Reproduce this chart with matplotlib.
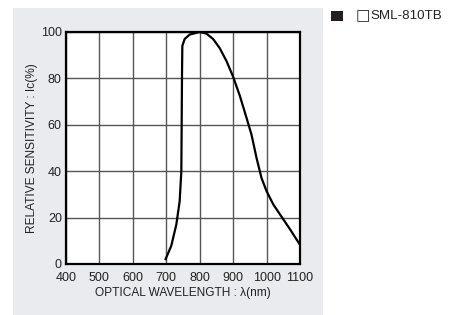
import matplotlib
matplotlib.use("Agg")
import matplotlib.pyplot as plt
from matplotlib.patches import Rectangle

plt.rcParams['font.family'] = ['Liberation Sans', 'DejaVu Sans']

# curve
wavelength = [698, 715, 730, 740, 745, 746, 747, 748, 755, 770, 800, 820, 840, 860, 880,
              900, 920, 940, 955, 970, 985, 1000, 1020, 1040, 1070, 1099]
sensitivity = [2.1, 7.9, 17, 27, 40, 60, 81, 94, 97, 98.9, 100, 99.3, 97, 93, 87.5,
               80.7, 72.5, 63, 55.7, 45.7, 37, 31.4, 25.7, 21.4, 15, 8.5]

xticks = [400, 500, 600, 700, 800, 900, 1000, 1100]
yticks = [0, 20, 40, 60, 80, 100]
legend_box = "\u25a1"
legend_label = "SML-810TB"

fig = plt.figure(figsize=(4.58, 3.15), dpi=100)

# grey panel behind the chart
fig.patches.append(Rectangle((13/458, 0), 310/458, 307/315, transform=fig.transFigure,
                             facecolor="#e9ebee", edgecolor="none", zorder=-5))

ax = fig.add_axes([66/458, 51/315, 234/458, 232/315])
ax.set_facecolor("white")
ax.plot(wavelength, sensitivity, color="black", lw=1.6, zorder=3)
ax.set_xlim(400, 1100)
ax.set_ylim(0, 100)
ax.set_xticks(xticks)
ax.set_yticks(yticks)
ax.grid(True, color="#555555", lw=1.0)
for s in ax.spines.values():
    s.set_linewidth(1.6)
ax.tick_params(length=0, labelsize=9, colors="#222222")
ax.tick_params(axis="x", pad=6)
ax.tick_params(axis="y", pad=3)
ax.set_xlabel("OPTICAL WAVELENGTH : \u03bb(nm)", fontsize=8.6, color="#222222", labelpad=2)
ax.set_ylabel("RELATIVE SENSITIVITY : Ic(%)", fontsize=8.6, color="#222222", labelpad=2)

# legend-like header at the right
fig.patches.append(Rectangle((331/458, 1 - 21/315), 12/458, 10/315, transform=fig.transFigure,
                             facecolor="#231f20", edgecolor="none"))
fig.text(356/458, 1 - 16/315, legend_box, fontsize=11, va="center", ha="left",
         color="#222222", family="DejaVu Sans")
fig.text(370/458, 1 - 16/315, legend_label, fontsize=9.6, va="center", ha="left", color="#222222")

fig.savefig("out.png", dpi=100)
